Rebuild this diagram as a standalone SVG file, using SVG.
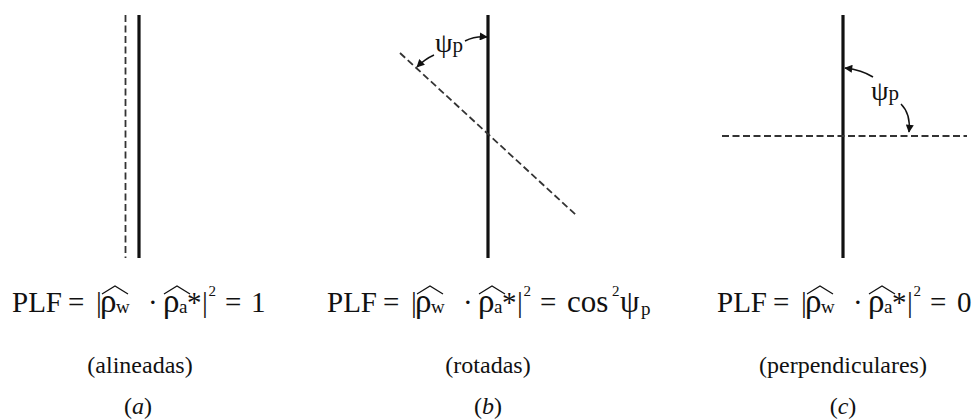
<svg xmlns="http://www.w3.org/2000/svg" width="974" height="419" viewBox="0 0 974 419">
<defs>
<marker id="ah" viewBox="0 0 10 10" refX="9" refY="5" markerWidth="9" markerHeight="8" markerUnits="userSpaceOnUse" orient="auto">
<path d="M0,0 L10,5 L0,10 Z" fill="#111"/>
</marker>
<style>
.solid{stroke:#111;stroke-width:3.2;fill:none}
.dash{stroke:#333;stroke-width:1.8;stroke-dasharray:7 3.5;fill:none}
.arrow{stroke:#111;stroke-width:1.5;fill:none;marker-end:url(#ah)}
.hat{stroke:#111;stroke-width:1.3;fill:none}
.eq{font-family:"Liberation Serif","Times New Roman",serif;font-size:29px;fill:#111}
.rho{font-size:33px}
.sub{font-size:19px}
.sup{font-size:15px}
.cap{font-family:"Liberation Serif","Times New Roman",serif;font-size:24px;fill:#111;text-anchor:middle}
.lbl{font-family:"Liberation Serif","Times New Roman",serif;font-size:28px;fill:#111}
.lsub{font-size:21px}
</style>
</defs>
<rect width="974" height="419" fill="#fff"/>

<g id="panel-a">
<line class="dash" x1="125.5" y1="15" x2="125.5" y2="258"/>
<line class="solid" x1="139" y1="15" x2="139" y2="258"/>
<text class="eq" y="312"><tspan x="12">PLF</tspan><tspan x="68">=</tspan><tspan x="96">|</tspan><tspan class="rho" x="100">ρ</tspan><tspan class="sub" x="116" y="313">w</tspan><tspan x="148" y="312">·</tspan><tspan class="rho" x="163">ρ</tspan><tspan class="sub" x="179" y="313">a</tspan><tspan x="187" y="312">*</tspan><tspan x="202">|</tspan><tspan class="sup" x="208.5" y="296">2</tspan><tspan x="225" y="312">=</tspan><tspan x="251">1</tspan></text>
<polyline class="hat" points="102,294 115,286 128,294"/>
<polyline class="hat" points="164,294 177,286 190,294"/>
<text class="cap" x="140" y="373">(alineadas)</text>
<text class="cap" x="138" y="414">(<tspan font-style="italic">a</tspan>)</text>
</g>

<g id="panel-b">
<line class="solid" x1="488" y1="15" x2="488" y2="258"/>
<line class="dash" x1="400" y1="53" x2="576" y2="215"/>
<text class="lbl" x="435" y="52">ψ<tspan class="lsub">p</tspan></text>
<text class="eq" y="312"><tspan x="327">PLF</tspan><tspan x="383">=</tspan><tspan x="411">|</tspan><tspan class="rho" x="415">ρ</tspan><tspan class="sub" x="431" y="313">w</tspan><tspan x="463" y="312">·</tspan><tspan class="rho" x="478">ρ</tspan><tspan class="sub" x="494" y="313">a</tspan><tspan x="502" y="312">*</tspan><tspan x="517">|</tspan><tspan class="sup" x="523.5" y="296">2</tspan><tspan x="540" y="312">=</tspan><tspan x="567" font-size="31">cos</tspan><tspan class="sup" x="612" y="296">2</tspan><tspan x="620" y="312" font-size="31">ψ</tspan><tspan class="sub" x="641" y="315">p</tspan></text>
<polyline class="hat" points="417,294 430,286 443,294"/>
<polyline class="hat" points="479,294 492,286 505,294"/>
<text class="cap" x="488" y="373">(rotadas)</text>
<text class="cap" x="488" y="414">(<tspan font-style="italic">b</tspan>)</text>
</g>

<g id="panel-c">
<line class="solid" x1="843" y1="15" x2="843" y2="258"/>
<line class="dash" x1="722" y1="136" x2="967" y2="136"/>
<text class="lbl" x="871" y="100">ψ<tspan class="lsub">p</tspan></text>
<text class="eq" y="312"><tspan x="717">PLF</tspan><tspan x="773">=</tspan><tspan x="801">|</tspan><tspan class="rho" x="805">ρ</tspan><tspan class="sub" x="821" y="313">w</tspan><tspan x="853" y="312">·</tspan><tspan class="rho" x="868">ρ</tspan><tspan class="sub" x="884" y="313">a</tspan><tspan x="892" y="312">*</tspan><tspan x="907">|</tspan><tspan class="sup" x="913.5" y="296">2</tspan><tspan x="930" y="312">=</tspan><tspan x="957">0</tspan></text>
<polyline class="hat" points="807,294 820,286 833,294"/>
<polyline class="hat" points="869,294 882,286 895,294"/>
<text class="cap" x="843" y="373">(perpendiculares)</text>
<text class="cap" x="843" y="414">(<tspan font-style="italic">c</tspan>)</text>
</g>

<g id="connectors">
<path class="arrow" d="M465,41 Q475,36 487,37"/>
<path class="arrow" d="M434,55 Q425,59 417,67"/>
<path class="arrow" d="M873,77 Q862,70 845,68"/>
<path class="arrow" d="M901,104 Q911,114 909,132"/>
</g>
</svg>
